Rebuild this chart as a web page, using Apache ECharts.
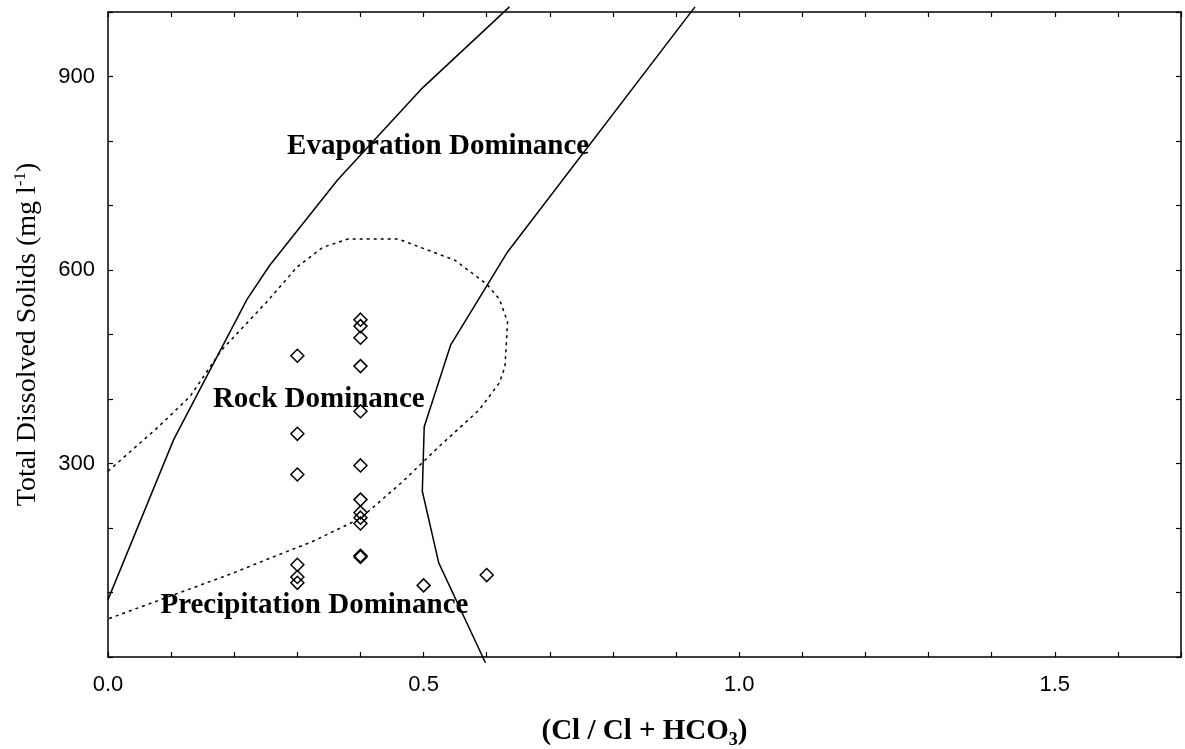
<!DOCTYPE html>
<html>
<head>
<meta charset="utf-8">
<title>Gibbs diagram – TDS vs Cl/(Cl+HCO3)</title>
<script src="https://cdn.jsdelivr.net/npm/echarts@6/dist/echarts.min.js"></script>
<style>
  html, body { margin: 0; padding: 0; background: #fff; }
  #chart { width: 1185px; height: 749px; }
</style>
</head>
<body>
<div id="chart"></div>
<script>
// Sample ratios Cl/(Cl+HCO3) and their total dissolved solids (mg/l)
const sampleRatio = [
  0.3, 0.3, 0.3, 0.3, 0.3, 0.3,
  0.4, 0.4, 0.4, 0.4, 0.4, 0.4, 0.4, 0.4, 0.4, 0.4, 0.4, 0.4,
  0.5, 0.6
];
const sampleTDS = [
  467, 346, 283, 143, 124, 115,
  523, 513, 495, 451, 381, 297, 244, 224, 216, 207, 157, 155,
  111, 127
];

// Gibbs boundary envelopes (solid) – ratio / TDS pairs
const leftBoundaryRatio = [0.0, 0.104, 0.220, 0.256, 0.364, 0.498, 0.636];
const leftBoundaryTDS   = [89, 337, 554, 607, 740, 882, 1008];
const rightBoundaryRatio = [0.598, 0.524, 0.498, 0.501, 0.543, 0.633, 0.930];
const rightBoundaryTDS   = [-9, 146, 257, 357, 484, 628, 1008];

// Rock-dominance field (dotted) – ratio / TDS pairs
const rockFieldRatio = [
  0.0, 0.08, 0.13, 0.18, 0.25, 0.30, 0.34, 0.38, 0.46, 0.55, 0.60,
  0.62, 0.633, 0.629, 0.62, 0.588, 0.522, 0.467, 0.40, 0.324, 0.256, 0.198, 0.0
];
const rockFieldTDS = [
  288, 357, 404, 476, 549, 605, 635, 648, 648, 615, 578,
  555, 520, 450, 425, 383, 324, 272, 215, 179, 153, 130, 59
];

// Axis tick labels
const xTickLabels = ['0.0', '0.5', '1.0', '1.5'];
const yTickLabels = ['300', '600', '900'];

// Field names
const fieldNames = ['Evaporation Dominance', 'Rock Dominance', 'Precipitation Dominance'];

const pairs = (xs, ys) => xs.map((x, i) => [x, ys[i]]);

const serif = '"Liberation Serif", "Times New Roman", Times, serif';
const sans = '"Liberation Sans", Arial, Helvetica, sans-serif';

const axisLineStyle = { color: '#000', width: 1.5 };
const tickStyle = { show: true, inside: true, length: 5, lineStyle: { color: '#000', width: 1.2 } };

const chart = echarts.init(document.getElementById('chart'), null, { renderer: 'canvas' });

const option = {
  backgroundColor: '#fff',
  animation: false,
  grid: { left: 108, right: 4, top: 12, bottom: 92, containLabel: false, outerBoundsMode: 'none' },
  xAxis: [
    {
      type: 'value', position: 'bottom', min: 0, max: 1.7, interval: 0.1,
      axisLine: { show: true, onZero: false, lineStyle: axisLineStyle },
      axisTick: tickStyle,
      splitLine: { show: false },
      axisLabel: {
        margin: 17, color: '#000', fontFamily: sans, fontSize: 22,
        formatter: v => {
          const s = v.toFixed(1);
          return xTickLabels.includes(s) ? s : '';
        }
      },
      name: '{b|(Cl / Cl + HCO}{s|3}{b|)}',
      nameLocation: 'middle', nameGap: 58,
      nameTextStyle: {
        rich: {
          b: { fontFamily: serif, fontWeight: 'bold', fontSize: 29, lineHeight: 34, color: '#000' },
          s: { fontFamily: serif, fontWeight: 'bold', fontSize: 18, lineHeight: 18, verticalAlign: 'bottom', color: '#000' }
        }
      }
    },
    {
      type: 'value', position: 'top', min: 0, max: 1.7, interval: 0.1,
      axisLine: { show: true, onZero: false, lineStyle: axisLineStyle },
      axisTick: tickStyle, axisLabel: { show: false }, splitLine: { show: false }
    }
  ],
  yAxis: [
    {
      type: 'value', position: 'left', min: 0, max: 1000, interval: 100,
      axisLine: { show: true, onZero: false, lineStyle: axisLineStyle },
      axisTick: tickStyle,
      splitLine: { show: false },
      axisLabel: {
        margin: 13, color: '#000', fontFamily: sans, fontSize: 22,
        formatter: v => {
          const s = String(Math.round(v));
          return yTickLabels.includes(s) ? s : '';
        }
      },
      name: '{r|Total Dissolved Solids (mg l}{p|-1}{r|)}',
      nameLocation: 'middle', nameRotate: 90, nameGap: 64,
      nameTextStyle: {
        rich: {
          r: { fontFamily: serif, fontSize: 28, lineHeight: 32, color: '#000' },
          p: { fontFamily: serif, fontSize: 17, lineHeight: 17, verticalAlign: 'top', color: '#000' }
        }
      }
    },
    {
      type: 'value', position: 'right', min: 0, max: 1000, interval: 100,
      axisLine: { show: true, onZero: false, lineStyle: axisLineStyle },
      axisTick: tickStyle, axisLabel: { show: false }, splitLine: { show: false }
    }
  ],
  series: [
    {
      name: 'field labels', type: 'scatter', symbolSize: 0, silent: true, z: 1,
      itemStyle: { opacity: 1 },
      data: [
        { value: [0.523, 791], name: fieldNames[0] },
        { value: [0.334, 399], name: fieldNames[1] },
        { value: [0.327, 80], name: fieldNames[2] }
      ],
      label: {
        show: true, position: 'inside', formatter: p => p.name,
        fontFamily: serif, fontWeight: 'bold', fontSize: 29, color: '#000', opacity: 1
      }
    },
    {
      name: 'left boundary', type: 'line', clip: false, z: 3,
      data: pairs(leftBoundaryRatio, leftBoundaryTDS),
      symbol: 'none', lineStyle: { color: '#000', width: 1.5 }
    },
    {
      name: 'right boundary', type: 'line', clip: false, z: 3,
      data: pairs(rightBoundaryRatio, rightBoundaryTDS),
      symbol: 'none', lineStyle: { color: '#000', width: 1.5 }
    },
    {
      name: 'rock field', type: 'line', z: 3,
      data: pairs(rockFieldRatio, rockFieldTDS),
      symbol: 'none', lineStyle: { color: '#000', width: 1.5, type: [3, 4] }
    },
    {
      name: 'samples', type: 'scatter', z: 4,
      data: pairs(sampleRatio, sampleTDS),
      symbol: 'diamond', symbolSize: [13, 13],
      itemStyle: { color: 'rgba(0,0,0,0)', borderColor: '#000', borderWidth: 1.5, opacity: 1 }
    }
  ]
};

chart.setOption(option);
</script>
</body>
</html>
